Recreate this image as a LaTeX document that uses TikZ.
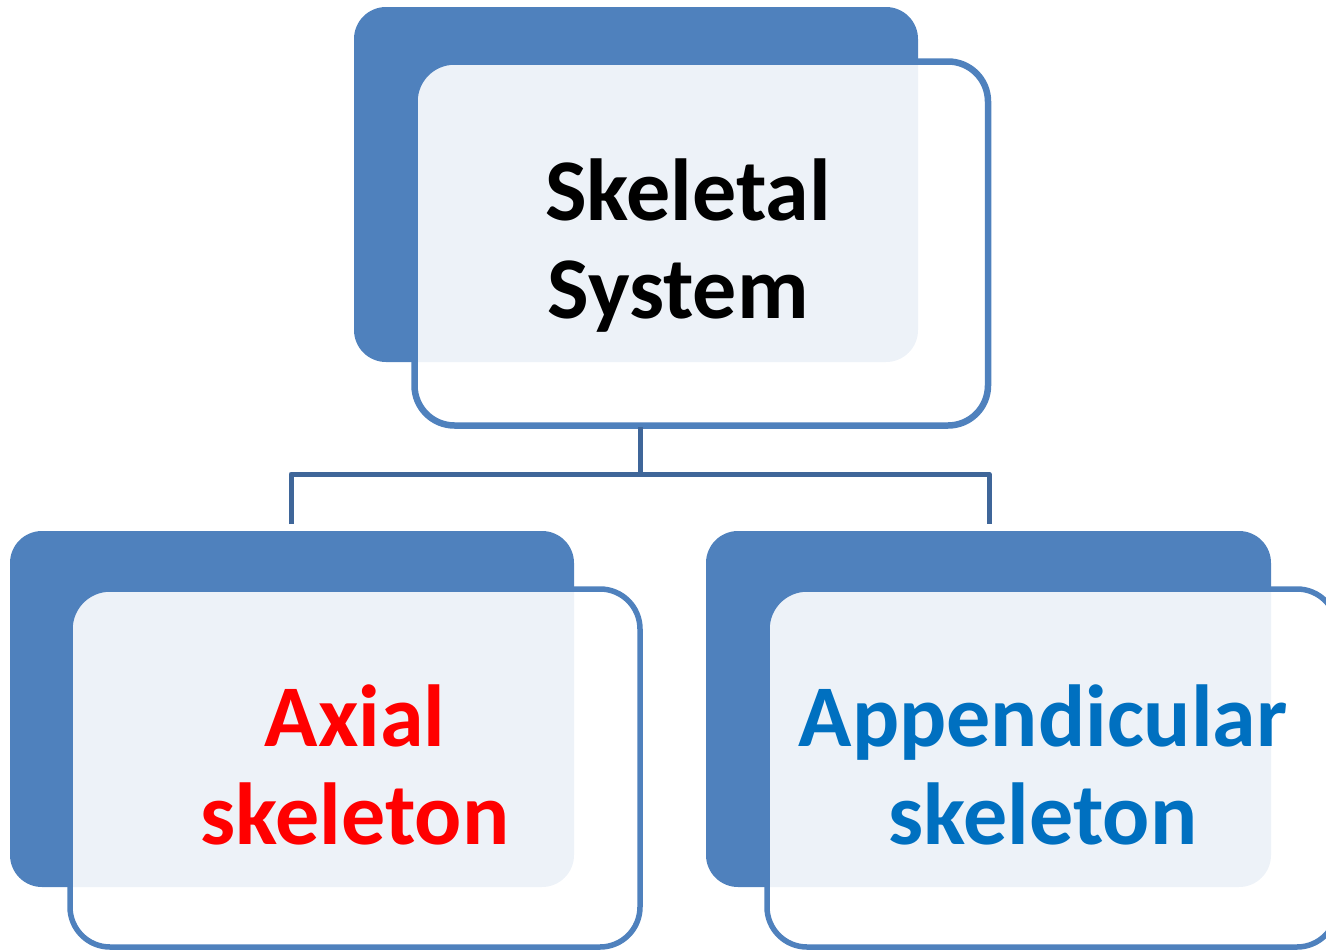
\documentclass[tikz,border=0pt]{standalone}
\usepackage{fontspec}
\setmainfont{Carlito}
\definecolor{backblue}{HTML}{4F81BD}
\definecolor{linkblue}{HTML}{3F6699}
\definecolor{apblue}{HTML}{0070C0}
\begin{document}
\begin{tikzpicture}[x=1pt,y=-1pt,
  backbox/.style={fill=backblue, rounded corners=32pt, anchor=north west, inner sep=0, outer sep=0},
  frontbox/.style={draw=backblue, line width=5.5pt, fill=white, fill opacity=0.9, rounded corners=40pt, anchor=north west, inner sep=0, outer sep=0},
  lbl/.style={font=\fontsize{88}{98}\selectfont\bfseries, align=center, inner sep=0},
  link/.style={draw=linkblue, line width=5pt, line join=round}]
\clip (0,0) rectangle (1326,951);
% back boxes
\node[backbox, minimum width=564pt, minimum height=355pt] (b0) at (354,7) {};
\node[backbox, minimum width=564pt, minimum height=356pt] (b1) at (10,531) {};
\node[backbox, minimum width=565pt, minimum height=356pt] (b2) at (706,531) {};
% front boxes
\node[frontbox, line width=6.5pt, minimum width=573.5pt, minimum height=364pt] (f0) at (414.5,61.5) {};
\node[frontbox, minimum width=570pt, minimum height=358pt] (f1) at (70,589) {};
\node[frontbox, minimum width=570pt, minimum height=358pt] (f2) at (767,589) {};
% connectors
\coordinate (c0) at (640,427);
\coordinate (j) at (640,474);
\coordinate (lc) at (291,474);
\coordinate (rc) at (989,474);
\coordinate (lt) at (291,524);
\coordinate (rt) at (989,524);
\draw[link] (c0) -- (j);
\draw[link] (lt) -- (lc) -- (rc) -- (rt);
% labels
\node[lbl, text=black] (t0) at (688,246) {Skeletal\\System\hspace*{0.226em}};
\node[lbl, text=red] (t1) at (355,765) {Axial\\skeleton};
\node[lbl, text=apblue] (t2) at (1043,765) {Appendicular\\skeleton};
\end{tikzpicture}
\end{document}
